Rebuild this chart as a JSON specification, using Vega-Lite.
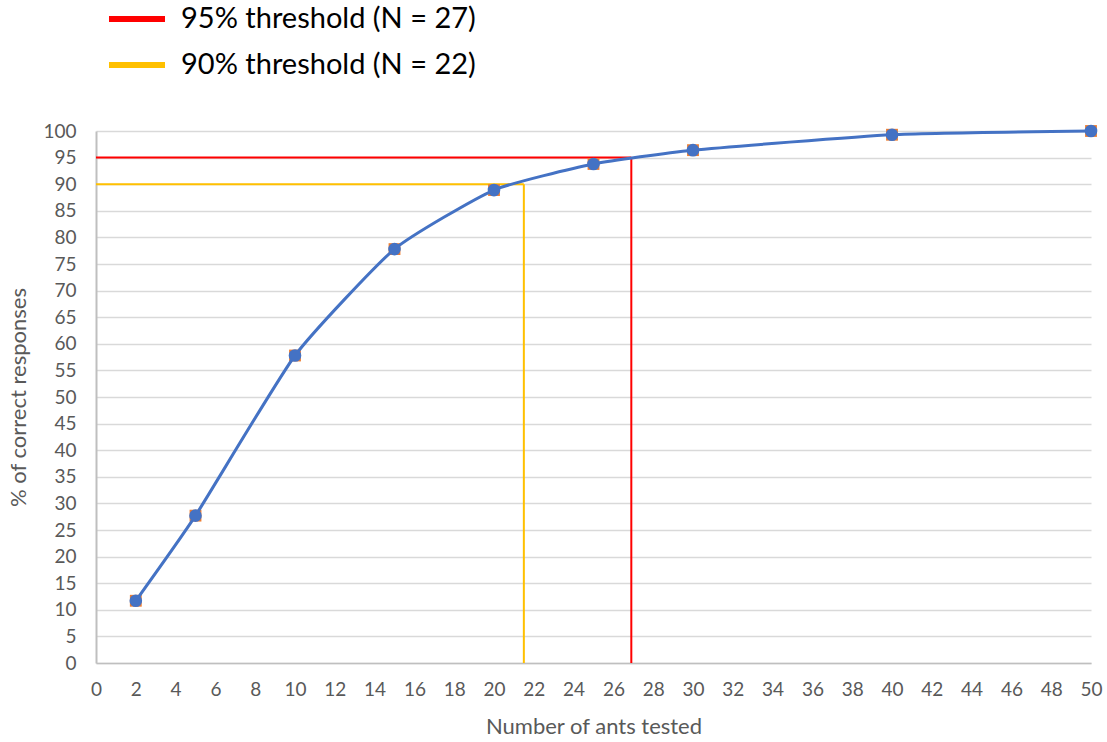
{
  "$schema": "https://vega.github.io/schema/vega-lite/v6.json",
  "width": 995,
  "height": 532,
  "autosize": "none",
  "padding": {"left": 96, "top": 131, "right": 16, "bottom": 79},
  "background": "white",
  "config": {"view": {"stroke": null}, "font": "Lato"},
  "datasets": {
    "acc": [
      {"n": 2, "pct": 11.7},
      {"n": 5, "pct": 27.7},
      {"n": 10, "pct": 57.8},
      {"n": 15, "pct": 77.8},
      {"n": 20, "pct": 88.9},
      {"n": 25, "pct": 93.8},
      {"n": 30, "pct": 96.4},
      {"n": 40, "pct": 99.3},
      {"n": 50, "pct": 100}
    ],
    "thr": [
      {"series": "95% threshold (N = 27)", "n": 0, "pct": 95, "n2": 26.9, "pct2": 95},
      {"series": "95% threshold (N = 27)", "n": 26.9, "pct": 0, "n2": 26.9, "pct2": 95},
      {"series": "90% threshold (N = 22)", "n": 0, "pct": 90, "n2": 21.5, "pct2": 90},
      {"series": "90% threshold (N = 22)", "n": 21.5, "pct": 0, "n2": 21.5, "pct2": 90}
    ]
  },
  "encoding": {
    "x": {
      "field": "n", "type": "quantitative",
      "scale": {"domain": [0, 50], "nice": false, "zero": true},
      "axis": {
        "values": [0,2,4,6,8,10,12,14,16,18,20,22,24,26,28,30,32,34,36,38,40,42,44,46,48,50],
        "tickCount": 26,
        "title": "Number of ants tested",
        "grid": false, "ticks": false, "labelOverlap": false, "labelBound": false, "labelFlush": false,
        "domainColor": "#bfbfbf", "domainWidth": 1.5,
        "labelFontSize": 19, "labelColor": "#595959", "labelPadding": 17,
        "labelFont": "Lato",
        "titleFontSize": 22, "titleColor": "#595959", "titleFontWeight": "normal",
        "titleFont": "Lato", "titlePadding": 17
      }
    },
    "y": {
      "field": "pct", "type": "quantitative",
      "scale": {"domain": [0, 100], "nice": false},
      "axis": {
        "values": [0,5,10,15,20,25,30,35,40,45,50,55,60,65,70,75,80,85,90,95,100],
        "tickCount": 21,
        "title": "% of correct responses",
        "grid": true, "gridColor": "#d9d9d9", "gridWidth": 1.5,
        "ticks": false, "labelOverlap": false, "labelBound": false, "labelFlush": false,
        "domainColor": "#bfbfbf", "domainWidth": 2,
        "labelFontSize": 19, "labelColor": "#595959", "labelPadding": 20,
        "labelFont": "Lato",
        "titleFontSize": 22, "titleColor": "#595959", "titleFontWeight": "normal",
        "titleFont": "Lato", "titlePadding": 12
      }
    }
  },
  "layer": [
    {
      "data": {"name": "thr"},
      "mark": {"type": "rule", "strokeWidth": 2},
      "encoding": {
        "x2": {"field": "n2"},
        "y2": {"field": "pct2"},
        "color": {
          "field": "series", "type": "nominal",
          "scale": {
            "domain": ["95% threshold (N = 27)", "90% threshold (N = 22)"],
            "range": ["#ff0000", "#ffc000"]
          },
          "legend": {
            "orient": "none", "legendX": 10, "legendY": -143,
            "title": null, "symbolType": "stroke", "symbolSize": 3136,
            "symbolStrokeWidth": 6, "labelFontSize": 29, "labelColor": "#000000",
            "labelFont": "Lato", "labelOffset": 13, "rowPadding": -20,
            "padding": 0, "labelLimit": 600
          }
        }
      }
    },
    {
      "data": {"name": "acc"},
      "mark": {"type": "point", "shape": "square", "filled": true, "size": 140, "color": "#ed7d31", "opacity": 1}
    },
    {
      "data": {"name": "acc"},
      "mark": {"type": "line", "interpolate": "cardinal", "tension": 0.5, "color": "#4472c4", "strokeWidth": 3}
    },
    {
      "data": {"name": "acc"},
      "mark": {"type": "point", "shape": "circle", "filled": true, "size": 160, "color": "#4472c4", "opacity": 1}
    }
  ]
}
